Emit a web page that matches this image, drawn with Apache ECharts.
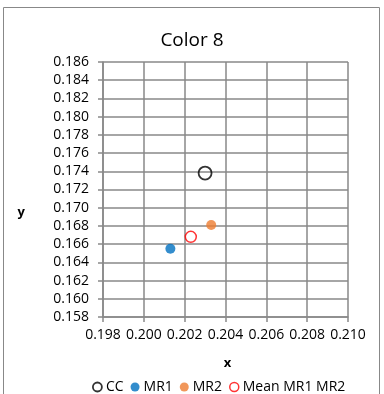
<!DOCTYPE html>
<html><head><meta charset="utf-8">
<script src="https://cdn.jsdelivr.net/npm/echarts@6/dist/echarts.min.js"></script>
<style>html,body{margin:0;padding:0;background:#fff}#c{width:384px;height:394px}</style>
</head><body><div id="c"></div>
<script>
const seriesNames = ['CC', 'MR1', 'MR2', 'Mean MR1 MR2'];
const ccPoint = [[0.2030, 0.1738]];
const mr1Point = [[0.2013, 0.1655]];
const mr2Point = [[0.2033, 0.1681]];
const meanPoint = [[0.2023, 0.1668]];
const xTicks = ['0.198','0.200','0.202','0.204','0.206','0.208','0.210'];
const yTicks = ['0.158','0.160','0.162','0.164','0.166','0.168','0.170','0.172','0.174','0.176','0.178','0.180','0.182','0.184','0.186'];

const font = '"Open Sans", sans-serif';
const grayLine = '#898989';
const chart = echarts.init(document.getElementById('c'));
chart.setOption({
  animation: false,
  textStyle: { fontFamily: font },
  graphic: [{ type: 'rect', shape: { x: 3.5, y: 7.5, width: 376, height: 400 }, style: { fill: 'none', stroke: '#888', lineWidth: 1 } }],
  title: { text: 'Color 8', left: 'center', top: 26, textStyle: { fontFamily: font, fontSize: 19, fontWeight: 'normal', color: '#000' } },
  grid: { left: 103, right: 36, top: 62, bottom: 77 },
  xAxis: {
    type: 'value', min: +xTicks[0], max: +xTicks[xTicks.length-1], interval: 0.002,
    name: 'x', nameLocation: 'middle', nameGap: 40,
    nameTextStyle: { fontFamily: font, fontSize: 13, fontWeight: 'bold', color: '#000', padding: [0,0,0,4] },
    axisLine: { show: true, lineStyle: { color: grayLine, width: 1.5 } },
    axisTick: { show: true, length: 5, lineStyle: { color: grayLine, width: 1.5 } },
    splitLine: { show: true, lineStyle: { color: grayLine, width: 1.5 } },
    axisLabel: { fontFamily: font, fontSize: 14, color: '#000', margin: 11, formatter: v => v.toFixed(3) }
  },
  yAxis: {
    type: 'value', min: +yTicks[0], max: +yTicks[yTicks.length-1], interval: 0.002,
    name: 'y', nameLocation: 'middle', nameGap: 78, nameRotate: 0,
    nameTextStyle: { fontFamily: font, fontSize: 13, fontWeight: 'bold', color: '#000', verticalAlign: 'top', lineHeight: 46 },
    axisLine: { show: true, lineStyle: { color: grayLine, width: 1.5 } },
    axisTick: { show: true, length: 5, lineStyle: { color: grayLine, width: 1.5 } },
    splitLine: { show: true, lineStyle: { color: grayLine, width: 1.5 } },
    axisLabel: { fontFamily: font, fontSize: 14, color: '#000', margin: 14, formatter: v => v.toFixed(3) }
  },
  legend: {
    left: 87, top: 375, itemWidth: 9, itemHeight: 9, itemGap: 7,
    textStyle: { fontFamily: font, fontSize: 14, color: '#000', padding: [0,0,0,-1] },
    data: [
      { name: seriesNames[0], icon: 'circle', itemStyle: { color: '#fff', borderColor: '#000', borderWidth: 1.8 } },
      { name: seriesNames[1], icon: 'circle' },
      { name: seriesNames[2], icon: 'circle' },
      { name: seriesNames[3], icon: 'circle', itemStyle: { color: '#fff', borderColor: '#ff0000', borderWidth: 1.5 } }
    ]
  },
  series: [
    { name: seriesNames[0], type: 'scatter', data: ccPoint, symbol: 'circle', symbolSize: 13, itemStyle: { color: 'rgba(255,255,255,0)', borderColor: '#000', borderWidth: 1.8 } },
    { name: seriesNames[1], type: 'scatter', data: mr1Point, symbol: 'circle', symbolSize: 10, itemStyle: { color: '#0070C0' } },
    { name: seriesNames[2], type: 'scatter', data: mr2Point, symbol: 'circle', symbolSize: 10, itemStyle: { color: '#ED7D31' } },
    { name: seriesNames[3], type: 'scatter', data: meanPoint, symbol: 'circle', symbolSize: 11, itemStyle: { color: 'rgba(255,255,255,0)', borderColor: '#ff0000', borderWidth: 1.5 } }
  ]
});
</script></body></html>
